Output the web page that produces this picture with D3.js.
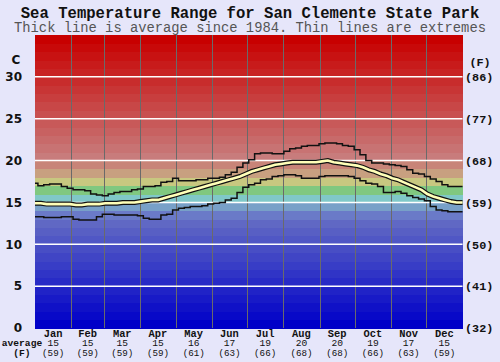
<!DOCTYPE html>
<html>
<head>
<meta charset="utf-8">
<script src="https://cdnjs.cloudflare.com/ajax/libs/d3/7.8.5/d3.min.js"></script>
<style>
  html, body { margin: 0; padding: 0; background: #e6e6fa; }
  svg { display: block; }
  .mono { font-family: "Liberation Mono", "DejaVu Sans Mono", monospace; }
</style>
</head>
<body>
<div id="chart"></div>
<script>
// sample days (every 5 days through the year)
var days = d3.range(0, 366, 5);

// sea temperature, deg C
var maxTemp = [17.3,17.0,17.1,17.2,17.2,16.9,16.7,16.5,16.5,16.4,
  16.0,15.9,15.8,16.0,16.2,16.3,16.3,16.5,16.6,16.9,
  16.9,17.0,17.4,17.5,17.9,17.6,17.6,17.6,17.7,17.7,
  17.9,17.9,18.0,18.3,18.6,19.2,19.7,20.1,20.8,20.9,
  20.9,20.8,20.8,21.1,21.4,21.5,21.7,21.8,21.8,22.0,
  22.1,22.1,22.0,21.8,21.7,21.3,20.7,20.0,19.7,19.7,
  19.6,19.5,19.4,19.3,18.9,18.5,18.4,18.1,17.8,17.5,
  17.1,16.9,16.9,16.9];
var avgTemp = [14.9,14.9,14.8,14.8,14.8,14.8,14.8,14.7,14.7,14.8,
  14.8,14.8,14.9,14.9,14.9,15.0,15.0,15.0,15.1,15.2,
  15.3,15.3,15.5,15.7,15.9,16.1,16.3,16.5,16.7,16.9,
  17.1,17.3,17.5,17.7,17.9,18.1,18.4,18.7,18.9,19.1,
  19.3,19.5,19.6,19.7,19.8,19.8,19.8,19.8,19.8,19.9,
  20.0,19.8,19.7,19.6,19.5,19.4,19.2,18.9,18.7,18.4,
  18.2,17.9,17.7,17.4,17.1,16.8,16.5,16.0,15.7,15.5,
  15.3,15.1,15.0,15.0];
var minTemp = [13.3,13.3,13.2,13.2,13.2,13.3,13.3,13.0,12.9,12.9,
  12.9,13.3,13.6,13.6,13.5,13.5,13.5,13.5,13.4,13.1,
  13.0,13.0,13.5,13.6,14.1,14.3,14.4,14.5,14.5,14.6,
  14.8,14.9,15.0,15.3,15.5,16.2,16.8,17.1,17.3,17.7,
  17.8,18.1,18.2,18.3,18.3,18.2,17.9,17.9,17.9,18.1,
  18.2,18.2,18.2,18.2,18.1,17.9,17.6,17.3,17.2,16.9,
  16.2,16.2,16.3,16.1,15.8,15.6,15.4,15.2,14.5,14.1,
  14.0,13.9,13.9,13.9];

var months = ['Jan','Feb','Mar','Apr','May','Jun','Jul','Aug','Sep','Oct','Nov','Dec'];
var monthStart = [0,31,59,90,120,151,181,212,243,273,304,334,365];
var monthAvgC = [15,15,15,15,16,17,19,20,20,19,17,15];
var monthAvgF = [59,59,59,59,61,63,66,68,68,66,63,59];

var cTicks = [0,5,10,15,20,25,30];
var fLabels = ['(32)','(41)','(50)','(59)','(68)','(77)','(86)'];

// band colour stops (deg C -> colour)
var bandStops = [0, 12, 13, 14, 15, 16, 17, 18, 19, 20, 34];
var bandColors = ['#0000c8','#6068c4','#6a7ac8','#78a0c8','#80c8c8','#80c880',
  '#c8c880','#c8a080','#c88478','#c87c7c','#c80000'];

var W = 500, H = 362;
var pLeft = 35, pRight = 462.5, pTop = 35, pBottom = 328;

var svg = d3.select('#chart').append('svg')
  .attr('width', W).attr('height', H);

var x = d3.scaleLinear().domain([0, 365]).range([pLeft, pRight]);
var y = d3.scaleLinear().domain([0, 35]).range([pBottom, pTop]);
var bandColor = d3.scaleLinear().domain(bandStops).range(bandColors).interpolate(d3.interpolateRgb);

// colour bands, one per degree
svg.append('g').selectAll('rect').data(d3.range(0, 35)).enter()
  .append('rect')
    .attr('x', pLeft)
    .attr('width', pRight - pLeft)
    .attr('y', function(d) { return y(d + 1); })
    .attr('height', function(d) { return y(d) - y(d + 1) + 0.5; })
    .attr('fill', function(d) { return bandColor(d); })
    .attr('shape-rendering', 'crispEdges');

// month dividers
svg.append('g').selectAll('line').data(monthStart.slice(1, 12)).enter()
  .append('line')
    .attr('x1', function(d) { return Math.round(x(d)) + 0.5; })
    .attr('x2', function(d) { return Math.round(x(d)) + 0.5; })
    .attr('y1', pTop).attr('y2', pBottom)
    .attr('stroke', '#6a6a6a').attr('stroke-width', 1);

// white grid lines
svg.append('g').selectAll('line').data(cTicks.slice(1)).enter()
  .append('line')
    .attr('x1', pLeft).attr('x2', pRight)
    .attr('y1', function(d) { return y(d); })
    .attr('y2', function(d) { return y(d); })
    .attr('stroke', '#ffffff').attr('stroke-width', 1.5);

function lineOf(vals, curve) {
  return d3.line()
    .x(function(d, i) { return x(days[i]); })
    .y(function(d) { return y(d); })
    .curve(curve)(vals);
}

svg.append('path').attr('d', lineOf(maxTemp, d3.curveStep))
  .attr('fill', 'none').attr('stroke', '#111').attr('stroke-width', 1.5);
svg.append('path').attr('d', lineOf(minTemp, d3.curveStep))
  .attr('fill', 'none').attr('stroke', '#111').attr('stroke-width', 1.5);
svg.append('path').attr('d', lineOf(avgTemp, d3.curveLinear))
  .attr('fill', 'none').attr('stroke', '#111').attr('stroke-width', 5);
svg.append('path').attr('d', lineOf(avgTemp, d3.curveLinear))
  .attr('fill', 'none').attr('stroke', '#ffffb8').attr('stroke-width', 2.6);

// titles
svg.append('text').attr('class', 'mono')
  .attr('x', W / 2).attr('y', 17.5)
  .attr('text-anchor', 'middle')
  .style('font-size', '15.6px').style('font-weight', 'bold').attr('fill', '#111')
  .text('Sea Temperature Range for San Clemente State Park');
svg.append('text').attr('class', 'mono')
  .attr('x', W / 2).attr('y', 32)
  .attr('text-anchor', 'middle')
  .style('font-size', '13.8px').attr('fill', '#555')
  .text('Thick line is average since 1984. Thin lines are extremes');

// left axis (C)
var leftAxis = svg.append('g')
  .style('font-family', '"DejaVu Sans", sans-serif')
  .style('font-size', '12px').style('font-weight', 'bold');
leftAxis.selectAll('text').data(cTicks).enter()
  .append('text')
    .attr('x', 22).attr('y', function(d) { return y(d); })
    .attr('dy', '0.36em')
    .attr('text-anchor', 'end')
    .attr('fill', '#111')
    .text(function(d) { return d; });
leftAxis.append('text')
  .attr('x', 16).attr('y', 60).attr('dy', '0.36em')
  .attr('text-anchor', 'middle').attr('fill', '#111').text('C');

// right axis (F)
var rightAxis = svg.append('g').attr('class', 'mono')
  .style('font-size', '11.8px').style('font-weight', 'bold');
rightAxis.selectAll('text').data(cTicks).enter()
  .append('text')
    .attr('x', 465).attr('y', function(d) { return y(d); })
    .attr('dy', '0.36em')
    .attr('fill', '#111')
    .text(function(d, i) { return fLabels[i]; });
rightAxis.append('text')
  .attr('x', 480).attr('y', 62).attr('dy', '0.36em')
  .attr('text-anchor', 'middle').attr('fill', '#111').text('(F)');

// month labels
var bottomG = svg.append('g').attr('class', 'mono').attr('fill', '#111');
months.forEach(function(m, i) {
  var cx = x((monthStart[i] + monthStart[i + 1]) / 2);
  bottomG.append('text').attr('x', cx).attr('y', 336.5)
    .attr('text-anchor', 'middle')
    .style('font-size', '10.4px').style('font-weight', 'bold').text(m);
  bottomG.append('text').attr('x', cx).attr('y', 346.2)
    .attr('text-anchor', 'middle')
    .style('font-size', '9.6px').text(monthAvgC[i]);
  bottomG.append('text').attr('x', cx).attr('y', 356.2)
    .attr('text-anchor', 'middle')
    .style('font-size', '9.2px').text('(' + monthAvgF[i] + ')');
});
bottomG.append('text').attr('x', 22).attr('y', 346.2)
  .attr('text-anchor', 'middle')
  .style('font-size', '9.6px').style('font-weight', 'bold').text('average');
bottomG.append('text').attr('x', 22).attr('y', 356.2)
  .attr('text-anchor', 'middle')
  .style('font-size', '9.6px').style('font-weight', 'bold').text('(F)');
</script>
</body>
</html>
